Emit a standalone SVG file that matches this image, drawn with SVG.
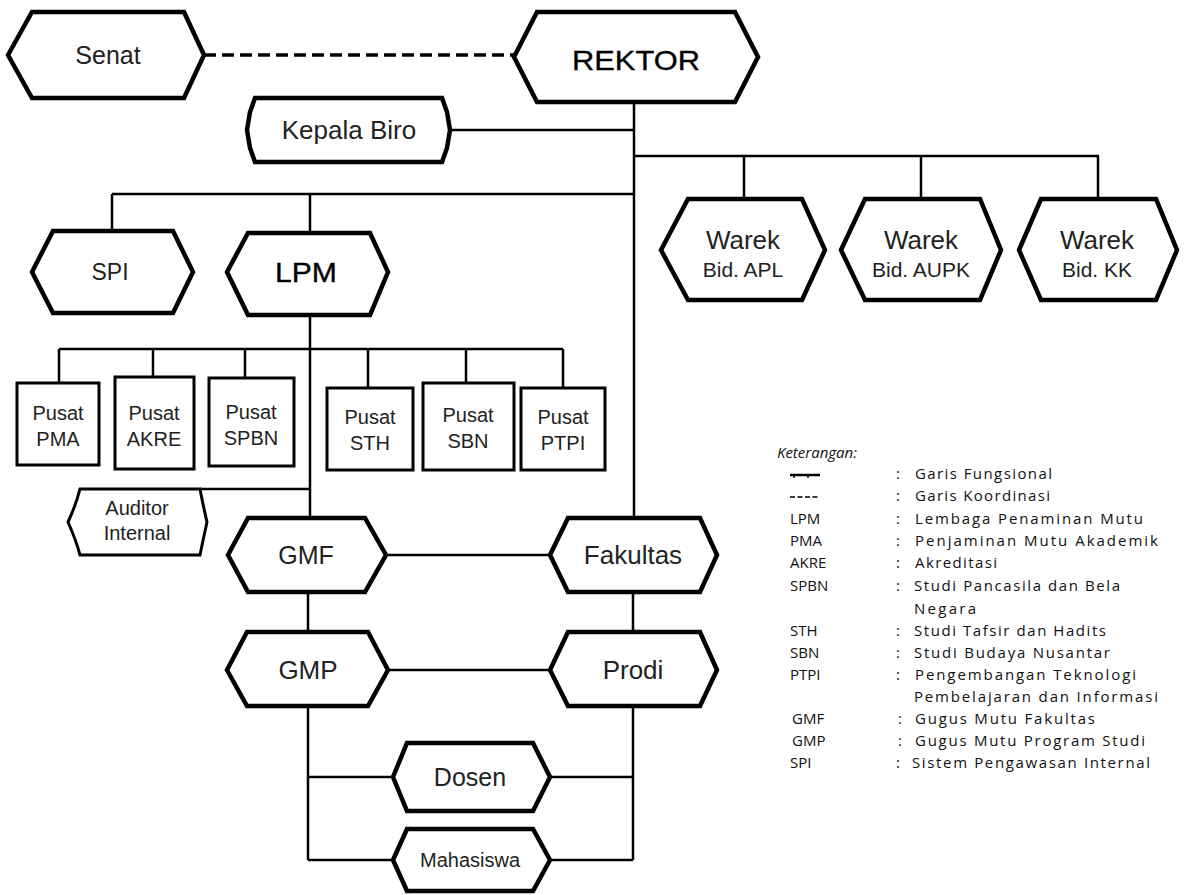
<svg xmlns="http://www.w3.org/2000/svg" width="1192" height="895" viewBox="0 0 1192 895">
<style>
.hex{fill:#fff;stroke:#000;stroke-width:4.5;stroke-linejoin:miter}
.box{fill:#fff;stroke:#000;stroke-width:3}
.aud{fill:#fff;stroke:#000;stroke-width:3}
.c{fill:none;stroke:#000;stroke-width:2.5}
.dash{fill:none;stroke:#000;stroke-width:3.5;stroke-dasharray:12 6}
.t{font-family:"Liberation Sans",Arial,sans-serif;fill:#222;text-anchor:middle}
.b{fill:#000;stroke:#000;stroke-width:0.35}
.lg{font-family:"Open Sans","Liberation Sans",sans-serif;font-size:15px;fill:#111}
</style>
<rect width="1192" height="895" fill="#fff"/>
<g id="connectors">
<line class="dash" x1="204" y1="55" x2="514" y2="55"/>
<path class="c" d="M634 102V518"/>
<path class="c" d="M450 130H634"/>
<path class="c" d="M634 156H1099M744 156V199M921 156V199M1098 156V199"/>
<path class="c" d="M112 194H634M112 194V231M310 194V233"/>
<path class="c" d="M310 315V518"/>
<path class="c" d="M59 349H563M59 349V383M153 349V377M245 349V378M368 349V388M466 349V383M563 349V388"/>
<path class="c" d="M200 489H310"/>
<path class="c" d="M386 555H550"/>
<path class="c" d="M308 592V632M633 592V632"/>
<path class="c" d="M388 670H550"/>
<path class="c" d="M308 706V860M633 706V860"/>
<path class="c" d="M308 777H393M550 777H633M308 860H393M550 860H633"/>
</g>
<g id="senat"><polygon class="hex" points="8,55 32,12 184,12 204,55 184,98 32,98"/><text class="t" x="108" y="64" font-size="25">Senat</text></g>
<g id="rektor"><polygon class="hex" points="514,57 537,12 735,12 758,57 735,102 537,102"/><text class="t b" x="636" y="70" font-size="28" textLength="128" lengthAdjust="spacingAndGlyphs">REKTOR</text></g>
<g id="kepala-biro"><polygon class="hex" points="255,98 442,98 447,112 450,130 447,148 442,162 255,162 250,148 247,130 250,112"/><text class="t" x="349" y="139" font-size="26">Kepala Biro</text></g>
<g id="warek-apl"><polygon class="hex" points="661,250 688,199 802,199 825,250 802,300 688,300"/><text class="t" x="743" y="249" font-size="26">Warek</text><text class="t" x="743" y="277" font-size="21">Bid. APL</text></g>
<g id="warek-aupk"><polygon class="hex" points="841,250 865,199 980,199 1001,250 980,300 865,300"/><text class="t" x="921" y="249" font-size="26">Warek</text><text class="t" x="921" y="277" font-size="21">Bid. AUPK</text></g>
<g id="warek-kk"><polygon class="hex" points="1019,250 1041,199 1156,199 1177,250 1156,300 1041,300"/><text class="t" x="1097" y="249" font-size="26">Warek</text><text class="t" x="1097" y="277" font-size="21">Bid. KK</text></g>
<g id="spi"><polygon class="hex" points="32,272 53,231 173,231 193,272 173,313 53,313"/><text class="t" x="110" y="280" font-size="23">SPI</text></g>
<g id="lpm"><polygon class="hex" points="227,272 248,233 370,233 388,272 370,315 248,315"/><text class="t b" x="306" y="282" font-size="27" textLength="62" lengthAdjust="spacingAndGlyphs">LPM</text></g>
<g id="pusat-pma"><rect class="box" x="17" y="383" width="82" height="82"/><text class="t" x="58" y="420" font-size="20">Pusat</text><text class="t" x="58" y="446" font-size="20">PMA</text></g>
<g id="pusat-akre"><rect class="box" x="115" y="377" width="79" height="92"/><text class="t" x="154" y="420" font-size="20">Pusat</text><text class="t" x="154" y="446" font-size="20">AKRE</text></g>
<g id="pusat-spbn"><rect class="box" x="209" y="378" width="85" height="88"/><text class="t" x="251" y="419" font-size="20">Pusat</text><text class="t" x="251" y="445" font-size="20">SPBN</text></g>
<g id="pusat-sth"><rect class="box" x="327" y="388" width="86" height="82"/><text class="t" x="370" y="424" font-size="20">Pusat</text><text class="t" x="370" y="450" font-size="20">STH</text></g>
<g id="pusat-sbn"><rect class="box" x="423" y="383" width="91" height="87"/><text class="t" x="468" y="422" font-size="20">Pusat</text><text class="t" x="468" y="448" font-size="20">SBN</text></g>
<g id="pusat-ptpi"><rect class="box" x="521" y="388" width="84" height="82"/><text class="t" x="563" y="424" font-size="20">Pusat</text><text class="t" x="563" y="450" font-size="20">PTPI</text></g>
<g id="auditor-internal"><path class="aud" d="M80 489H200Q203 505 207 522Q203 540 200 555H80Q76 540 68 522Q76 505 80 489Z"/><text class="t" x="137" y="515" font-size="20">Auditor</text><text class="t" x="137" y="540" font-size="20">Internal</text></g>
<g id="gmf"><polygon class="hex" points="228,555 248,518 365,518 386,555 365,592 248,592"/><text class="t" x="306" y="564" font-size="25">GMF</text></g>
<g id="fakultas"><polygon class="hex" points="550,555 568,518 700,518 717,555 700,592 568,592"/><text class="t" x="633" y="564" font-size="26">Fakultas</text></g>
<g id="gmp"><polygon class="hex" points="227,670 247,632 368,632 388,670 368,706 247,706"/><text class="t" x="308" y="679" font-size="26">GMP</text></g>
<g id="prodi"><polygon class="hex" points="550,670 568,632 700,632 717,670 700,706 568,706"/><text class="t" x="633" y="679" font-size="26">Prodi</text></g>
<g id="dosen"><polygon class="hex" points="393,777 407,743 533,743 550,777 533,811 407,811"/><text class="t" x="470" y="786" font-size="25">Dosen</text></g>
<g id="mahasiswa"><polygon class="hex" points="393,860 407,829 533,829 550,860 533,891 407,891"/><text class="t" x="470" y="867" font-size="20">Mahasiswa</text></g>
<g id="legend">
<text class="lg" x="777" y="458" font-style="italic" fill="#444" font-size="14">Keterangan:</text>
<path d="M790 475H820" stroke="#000" stroke-width="2.5"/><path d="M794 475v3M808 475v3" stroke="#000" stroke-width="1.5"/>
<path d="M790 497H820" stroke="#000" stroke-width="1.5" stroke-dasharray="5 2.5"/>
<g class="lg">
<text x="896" y="479">:</text><text x="915" y="479" textLength="137" lengthAdjust="spacing">Garis Fungsional</text>
<text x="896" y="501">:</text><text x="915" y="501" textLength="135" lengthAdjust="spacing">Garis Koordinasi</text>
<text x="790" y="524">LPM</text><text x="896" y="524">:</text><text x="915" y="524" textLength="228" lengthAdjust="spacing">Lembaga Penaminan Mutu</text>
<text x="790" y="546">PMA</text><text x="896" y="546">:</text><text x="915" y="546" textLength="243" lengthAdjust="spacing">Penjaminan Mutu Akademik</text>
<text x="790" y="568">AKRE</text><text x="896" y="568">:</text><text x="915" y="568" textLength="82" lengthAdjust="spacing">Akreditasi</text>
<text x="790" y="591">SPBN</text><text x="896" y="591">:</text><text x="914" y="591" textLength="206" lengthAdjust="spacing">Studi Pancasila dan Bela</text>
<text x="914" y="614" textLength="62" lengthAdjust="spacing">Negara</text>
<text x="790" y="636">STH</text><text x="896" y="636">:</text><text x="914" y="636" textLength="192" lengthAdjust="spacing">Studi Tafsir dan Hadits</text>
<text x="790" y="658">SBN</text><text x="896" y="658">:</text><text x="914" y="658" textLength="196" lengthAdjust="spacing">Studi Budaya Nusantar</text>
<text x="790" y="680">PTPI</text><text x="896" y="680">:</text><text x="915" y="680" textLength="221" lengthAdjust="spacing">Pengembangan Teknologi</text>
<text x="914" y="702" textLength="244" lengthAdjust="spacing">Pembelajaran dan Informasi</text>
<text x="792" y="724">GMF</text><text x="898" y="724">:</text><text x="915" y="724" textLength="180" lengthAdjust="spacing">Gugus Mutu Fakultas</text>
<text x="792" y="746">GMP</text><text x="898" y="746">:</text><text x="915" y="746" textLength="230" lengthAdjust="spacing">Gugus Mutu Program Studi</text>
<text x="790" y="768">SPI</text><text x="896" y="768">:</text><text x="912" y="768" textLength="238" lengthAdjust="spacing">Sistem Pengawasan Internal</text>
</g>
</g>
</svg>
